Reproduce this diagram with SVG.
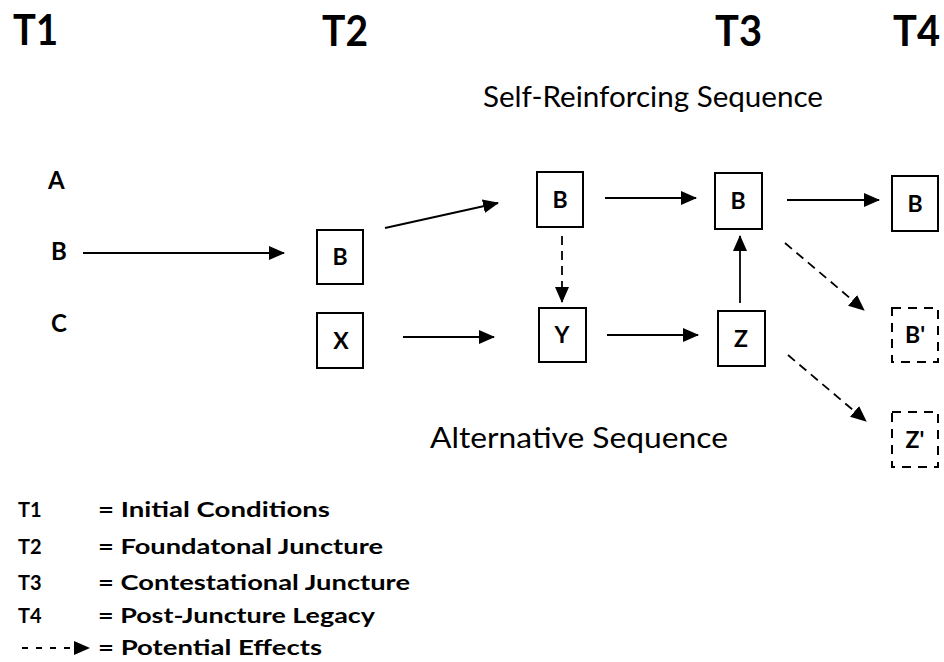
<svg xmlns="http://www.w3.org/2000/svg" width="944" height="662" viewBox="0 0 944 662">
<style>
text{font-family:Lato,"Liberation Sans",sans-serif;fill:#000}
.t{font-size:42px;font-weight:bold}
.n{font-size:23px;font-weight:bold;text-anchor:middle}
.lab{font-size:24px;font-weight:bold}
.seq{font-size:28px}
.leg{font-size:20px;font-weight:bold}
.box{fill:#fff;stroke:#000;stroke-width:2}
.dbox{fill:#fff;stroke:#000;stroke-width:2;stroke-dasharray:9 7}
.c{stroke:#000;stroke-width:1.8;fill:none;marker-end:url(#ah)}
.d{stroke-dasharray:9 6}
</style>
<defs>
<marker id="ah" markerUnits="userSpaceOnUse" markerWidth="16" markerHeight="16" viewBox="0 0 16 16" refX="15" refY="8" orient="auto">
<path d="M0,1 L16,8 L0,15 Z" fill="#000"/>
</marker>
</defs>
<rect width="944" height="662" fill="#fff"/>
<g id="titles">
<text class="t" x="13" y="45" textLength="45" lengthAdjust="spacingAndGlyphs">T1</text>
<text class="t" x="322" y="46" textLength="46" lengthAdjust="spacingAndGlyphs">T2</text>
<text class="t" x="715" y="46" textLength="47" lengthAdjust="spacingAndGlyphs">T3</text>
<text class="t" x="893" y="46" textLength="47" lengthAdjust="spacingAndGlyphs">T4</text>
<text class="seq" x="483" y="107" textLength="340" lengthAdjust="spacingAndGlyphs">Self-Reinforcing Sequence</text>
<text class="seq" x="430" y="448" textLength="298" lengthAdjust="spacingAndGlyphs">Alternative Sequence</text>
</g>
<g id="t1-labels">
<text class="lab" x="48" y="189">A</text>
<text class="lab" x="51" y="260">B</text>
<text class="lab" x="51" y="332">C</text>
</g>
<g id="connectors">
<line class="c" x1="83" y1="253" x2="284" y2="253"/>
<line class="c" x1="385" y1="228" x2="498" y2="203"/>
<line class="c" x1="403" y1="337" x2="494" y2="337"/>
<line class="c d" x1="562" y1="236" x2="562" y2="302"/>
<line class="c" x1="605" y1="198" x2="696" y2="198"/>
<line class="c" x1="787" y1="200" x2="879" y2="200"/>
<line class="c" x1="740" y1="303" x2="740" y2="236"/>
<line class="c" x1="607" y1="335" x2="698" y2="335"/>
<line class="c d" x1="785" y1="243" x2="864" y2="310"/>
<line class="c d" x1="788" y1="355" x2="866" y2="421"/>
</g>
<g id="node-b2"><rect class="box" x="317" y="230" width="46" height="54"/><text class="n" x="340" y="265">B</text></g>
<g id="node-x"><rect class="box" x="317" y="313" width="46" height="55"/><text class="n" x="341" y="349">X</text></g>
<g id="node-b3a"><rect class="box" x="537" y="172" width="46" height="55"/><text class="n" x="560" y="208">B</text></g>
<g id="node-y"><rect class="box" x="539" y="308" width="47" height="54"/><text class="n" x="562" y="343">Y</text></g>
<g id="node-b3"><rect class="box" x="715" y="173" width="47" height="56"/><text class="n" x="738" y="209">B</text></g>
<g id="node-z"><rect class="box" x="718" y="311" width="47" height="55"/><text class="n" x="741" y="347">Z</text></g>
<g id="node-b4"><rect class="box" x="892" y="176" width="46" height="55"/><text class="n" x="915" y="212">B</text></g>
<g id="node-bp"><rect class="dbox" x="892" y="308" width="46" height="54"/><text class="n" x="915" y="343">B'</text></g>
<g id="node-zp"><rect class="dbox" x="892" y="412" width="46" height="55"/><text class="n" x="915" y="448">Z'</text></g>
<g id="legend">
<text class="leg" x="18" y="517">T1</text>
<text class="leg" x="98" y="517" textLength="232" lengthAdjust="spacingAndGlyphs">= Initial Conditions</text>
<text class="leg" x="18" y="554">T2</text>
<text class="leg" x="98" y="554" textLength="285" lengthAdjust="spacingAndGlyphs">= Foundatonal Juncture</text>
<text class="leg" x="18" y="590">T3</text>
<text class="leg" x="98" y="590" textLength="312" lengthAdjust="spacingAndGlyphs">= Contestational Juncture</text>
<text class="leg" x="18" y="623">T4</text>
<text class="leg" x="98" y="623" textLength="277" lengthAdjust="spacingAndGlyphs">= Post-Juncture Legacy</text>
<line class="c" x1="22" y1="648" x2="89" y2="648" style="stroke-dasharray:6 8"/>
<text class="leg" x="98" y="655" textLength="224" lengthAdjust="spacingAndGlyphs">= Potential Effects</text>
</g>
</svg>
